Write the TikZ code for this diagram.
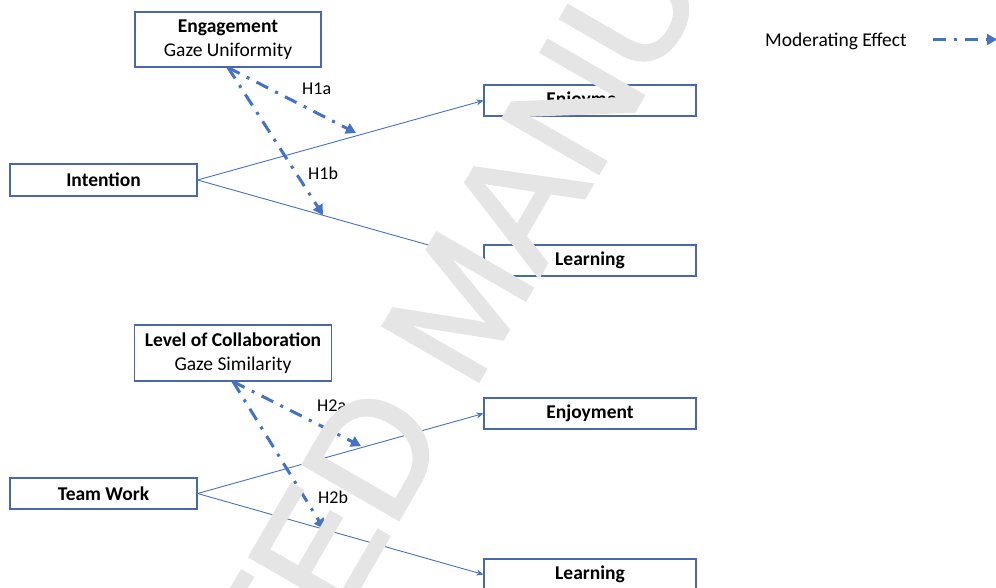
\documentclass[tikz,border=0pt]{standalone}
\usepackage{fontspec}
\setmainfont{Carlito}
\newfontfamily\wmfont[FakeBold=2]{Liberation Sans}
\usetikzlibrary{arrows.meta}
\definecolor{lineblue}{RGB}{68,114,196}
\definecolor{boxblue}{RGB}{72,104,168}
\definecolor{wmgray}{RGB}{229,229,229}
\begin{document}
\begin{tikzpicture}[x=1pt,y=-1pt,
  box/.style={draw=boxblue, line width=1.1pt, inner sep=0pt, align=center,
    font=\fontsize{19.5}{24}\selectfont},
  plain/.style={draw=lineblue, line width=0.9pt, -{Stealth[length=7pt,width=6pt]}},
  moder/.style={draw=lineblue, line width=3pt, dash pattern=on 13pt off 8pt on 3pt off 8pt,
    -{Triangle[length=10pt,width=11pt]}},
  hlabel/.style={anchor=west, inner sep=0pt, font=\fontsize{18}{20}\selectfont}]
\useasboundingbox (0,0) rectangle (996,587);
\clip (0,0) rectangle (996,587);
% boxes
\node[box, minimum width=186pt, minimum height=55pt] (eng) at (228,39.5)
  {\textbf{Engagement}\\Gaze Uniformity};
\node[box, minimum width=187pt, minimum height=32pt] (int) at (103.5,180) {\textbf{Intention}};
\node[box, minimum width=212pt, minimum height=31pt] (enj1) at (590,100.5) {\textbf{Enjoyment}};
\node[box, minimum width=212pt, minimum height=31pt] (lea1) at (590,260.5) {\textbf{Learning}};
\node[box, minimum width=197pt, minimum height=56pt] (loc) at (233,353)
  {\textbf{Level of Collaboration}\\Gaze Similarity};
\node[box, minimum width=187pt, minimum height=31pt] (tw) at (103.5,493.5) {\textbf{Team Work}};
\node[box, minimum width=212pt, minimum height=31pt] (enj2) at (590,413.5) {\textbf{Enjoyment}};
\node[box, minimum width=212pt, minimum height=31pt] (lea2) at (590,574.5) {\textbf{Learning}};
% solid connectors
\draw[plain] (int.east) -- (enj1.west);
\draw[plain] (int.east) -- (lea1.west);
\draw[plain] (tw.east) -- (enj2.west);
\draw[plain] (tw.east) -- (lea2.west);
% moderating effects
\coordinate (t1a) at (356,133);
\coordinate (t1b) at (323,215);
\coordinate (t2a) at (361,446);
\coordinate (t2b) at (324,529);
\draw[moder] (eng.south) -- (t1a);
\draw[moder] (eng.south) -- (t1b);
\draw[moder] (loc.south) -- (t2a);
\draw[moder] (loc.south) -- (t2b);
\node[hlabel] (h1a) at (302,89) {H1a};
\node[hlabel] (h1b) at (308,173) {H1b};
\node[hlabel] (h2a) at (317,406) {H2a};
\node[hlabel] (h2b) at (318,497) {H2b};
% legend
\node[anchor=west, inner sep=0pt, font=\fontsize{19.5}{24}\selectfont] (leg) at (765,41) {Moderating Effect};
\coordinate (legs) at (933,39.5);
\coordinate (lege) at (997,39.5);
\draw[moder] (legs) -- (lege);
% watermark
\node[rotate=60, text=wmgray, inner sep=0pt, font=\wmfont\fontsize{160}{160}\selectfont]
  (wm) at (460,303) {ACCEPTED MANUSCRIPT};
\end{tikzpicture}
\end{document}
